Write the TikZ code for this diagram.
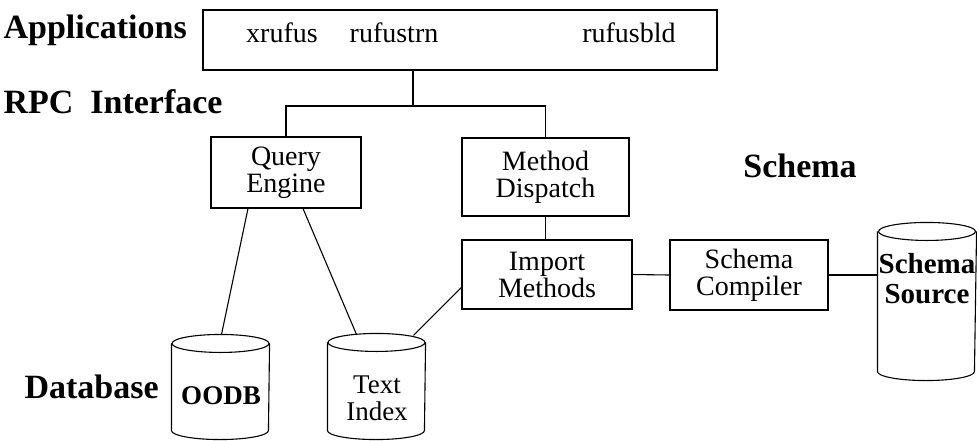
\documentclass[tikz,border=0pt]{standalone}
\usepackage{fontspec}
\setmainfont{Liberation Serif}
\begin{document}
\begin{tikzpicture}[x=1pt,y=-1pt,line width=1.1pt,
  lbl/.style={font=\fontsize{34}{36}\selectfont\bfseries, inner sep=0},
  txt/.style={font=\fontsize{28}{27}\selectfont, align=center, inner sep=0},
  dbtxt/.style={font=\fontsize{27}{27}\selectfont, align=center, inner sep=0},
  boxnode/.style={draw, inner sep=0},
  dbnode/.style={inner sep=0, minimum width=97pt}]
\useasboundingbox (0,0) rectangle (977,440);

% applications box
\node[boxnode, minimum width=514pt, minimum height=60pt] (app) at (460,40) {};
\node[txt, anchor=base] (x1) at (282,42) {xrufus};
\node[txt, anchor=base] (x2) at (394,42) {rufustrn};
\node[txt, anchor=base] (x3) at (629,42) {rufusbld};

% left labels
\node[lbl, anchor=base west] (lapp) at (3,38) {Applications};
\node[lbl, anchor=base west] (lrpc) at (3,113) {RPC\ \ Interface};
\node[lbl, anchor=base] (lsch) at (800,177) {Schema};
\node[lbl, anchor=base west] (ldb) at (24,398) {Database};

% boxes
\node[boxnode, txt, minimum width=150pt, minimum height=71pt] (qe) at (286,172.5) {Query\\Engine};
\node[boxnode, txt, minimum width=167pt, minimum height=78pt] (md) at (545.5,177) {Method\\Dispatch};
\node[boxnode, txt, minimum width=170pt, minimum height=69pt] (im) at (547,274.5) {Import\\Methods};
\node[boxnode, txt, minimum width=158pt, minimum height=70pt] (sc) at (749,275) {Schema\\Compiler};

% cylinders (named frames)
\node[dbnode, minimum height=104pt] (oodb) at (220.5,387) {};
\node[dbnode, minimum height=105pt] (ti) at (376.5,386.5) {};
\node[dbnode, minimum width=98pt, minimum height=157pt] (ss) at (927,301.5) {};
\foreach \c in {oodb,ti,ss}{
  \draw ([yshift=-9pt]\c.north) ellipse [x radius=48.5pt, y radius=9pt];
  \draw ([yshift=-9pt]\c.north west) -- ([yshift=9pt]\c.south west)
        arc[start angle=180, end angle=360, x radius=48.5pt, y radius=9pt]
        -- ([yshift=-9pt]\c.north east);
}
\node[dbtxt, font=\fontsize{27}{25}\selectfont\bfseries] (t1) at (221,396) {OODB};
\node[dbtxt] (t2) at (377,398) {Text\\Index};
\node[dbtxt, font=\fontsize{29}{30}\selectfont\bfseries] (t3) at (927,279) {Schema\\Source};

% connectors
\coordinate (bus) at (413,106);
\draw (app.south -| bus) -- (bus);
\draw (qe.north) |- (bus) -| (md.north);
\draw (md.south) -- (md.south |- im.north);
\draw ([xshift=-38pt]qe.south) -- ([xshift=1pt]oodb.north);
\draw ([xshift=17pt]qe.south) -- ([xshift=-20pt,yshift=-1pt]ti.north);
\draw ([yshift=-13pt]im.west) -- ([xshift=37pt,yshift=-2pt]ti.north);
\draw (im.east) -- (sc.west);
\draw (sc.east) -- (sc.east -| ss.west);
\end{tikzpicture}
\end{document}
